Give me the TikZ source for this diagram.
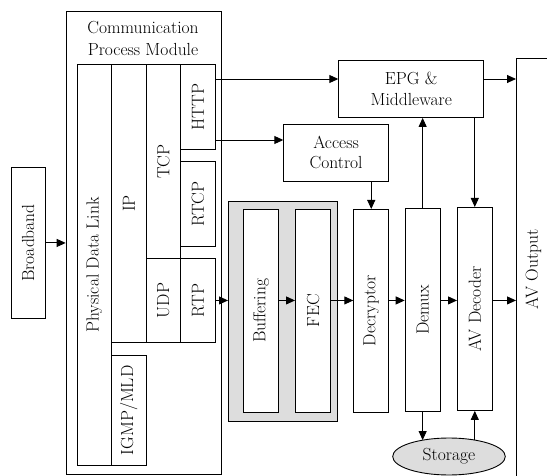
\documentclass[tikz,border=0pt]{standalone}
\usetikzlibrary{arrows.meta,shapes.geometric}

\definecolor{panelgray}{HTML}{DDDDDD}
\tikzset{
  blk/.style={draw, line width=0.9pt, inner sep=0pt, anchor=north west,
    align=center, font=\fontsize{17.5}{20.5}\selectfont},
  disk/.style={ellipse, draw, line width=0.9pt, fill=panelgray, inner sep=0pt,
    font=\fontsize{17.5}{20.5}\selectfont},
  conn/.style={line width=0.9pt, -{Triangle[length=9pt,width=8pt]}},
}

\begin{document}
\begin{tikzpicture}[x=1pt,y=-1pt]
\useasboundingbox (0,0) rectangle (547,476);

% protocol stack
\node[blk, minimum width=155pt, minimum height=463pt] (cpm) at (65.7,10.7) {};
\node[align=center, font=\fontsize{17.5}{22}\selectfont] (cpmname) at (143,38) {Communication\\Process Module};
\node[blk, minimum width=34.3pt, minimum height=400.7pt] (pdl) at (76.7,64.3) {\rotatebox{90}{Physical Data Link}};
\node[blk, minimum width=34.7pt, minimum height=277.7pt] (ip) at (111,64.3) {\rotatebox{90}{IP}};
\node[blk, minimum width=34.3pt, minimum height=193.7pt] (tcp) at (145.7,64.3) {\rotatebox{90}{TCP}};
\node[blk, minimum width=35pt, minimum height=84.7pt] (http) at (180,64.3) {\rotatebox{90}{HTTP}};
\node[blk, minimum width=35pt, minimum height=85pt] (rtcp) at (180,161) {\rotatebox{90}{RTCP}};
\node[blk, minimum width=34.3pt, minimum height=84pt] (udp) at (145.7,258) {\rotatebox{90}{UDP}};
\node[blk, minimum width=35pt, minimum height=84pt] (rtp) at (180,258) {\rotatebox{90}{RTP}};
\node[blk, minimum width=34.7pt, minimum height=110pt] (igmp) at (111,355) {\rotatebox{90}{IGMP/MLD}};

\node[blk, minimum width=34pt, minimum height=151pt] (bb) at (10.7,167) {\rotatebox{90}{Broadband}};

% receiver chain
\node[blk, fill=panelgray, minimum width=108.7pt, minimum height=219.7pt] (grp) at (228,201.3) {};
\node[blk, fill=white, minimum width=35.6pt, minimum height=202.7pt] (buf) at (242.7,209) {\rotatebox{90}{Buffering}};
\node[blk, fill=white, minimum width=35.3pt, minimum height=202.7pt] (fec) at (295,209) {\rotatebox{90}{FEC}};
\node[blk, minimum width=35pt, minimum height=202.7pt] (decr) at (353.3,209) {\rotatebox{90}{Decryptor}};
\node[blk, minimum width=35pt, minimum height=203pt] (demux) at (404.7,208) {\rotatebox{90}{Demux}};
\node[blk, minimum width=34.7pt, minimum height=203pt] (avdec) at (457,207) {\rotatebox{90}{AV Decoder}};

\node[blk, minimum width=145pt, minimum height=57pt] (epg) at (338.3,60) {EPG \&\\Middleware};
\node[blk, minimum width=104.7pt, minimum height=57pt] (ac) at (283.3,123.7) {Access\\Control};
\node[blk, minimum width=34pt, minimum height=422pt] (avout) at (516,58) {\rotatebox{90}{AV Output}};
\node[disk, minimum width=112.6pt, minimum height=37pt] (stor) at (449,456.5) {Storage};

\coordinate (epgrow) at (0,79);
\coordinate (acrow) at (0,140);

\draw[conn] (bb.east) -- (bb.east -| cpm.west);
\draw[conn] (http.east |- epgrow) -- (epg.west |- epgrow);
\draw[conn] (epg.east |- epgrow) -- (avout.west |- epgrow);
\draw[conn] (http.east |- acrow) -- (ac.west |- acrow);

\draw[conn] (rtp.east) -- (rtp.east -| grp.west);
\draw[conn] (buf.east |- rtp.east) -- (fec.west |- rtp.east);
\draw[conn] (fec.east |- rtp.east) -- (decr.west |- rtp.east);
\draw[conn] (decr.east |- rtp.east) -- (demux.west |- rtp.east);
\draw[conn] (demux.east |- rtp.east) -- (avdec.west |- rtp.east);
\draw[conn] (avdec.east |- rtp.east) -- (avout.west |- rtp.east);

\draw[conn] (decr.north |- ac.south) -- (decr.north);
\draw[conn] (demux.north) -- (demux.north |- epg.south);
\draw[conn] (avdec.north |- epg.south) -- (avdec.north);
\draw[conn] (demux.south) -- (demux.south |- stor.150);
\draw[conn] (avdec.south |- stor.30) -- (avdec.south);
\end{tikzpicture}
\end{document}
